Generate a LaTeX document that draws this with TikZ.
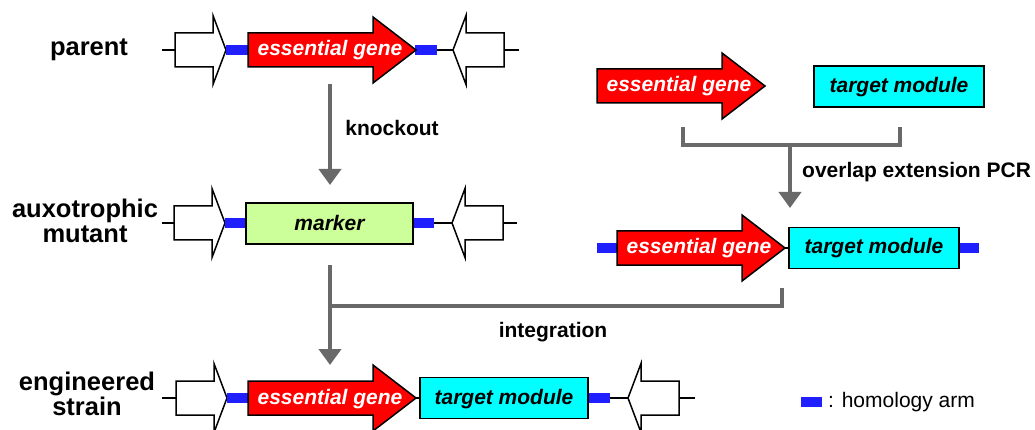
\documentclass[tikz,border=0pt]{standalone}
\usepackage{fontspec}
\setmainfont{Liberation Sans}
\usetikzlibrary{arrows.meta}
\definecolor{genered}{HTML}{FF0000}
\definecolor{modcyan}{HTML}{00FFFF}
\definecolor{markgreen}{HTML}{CCFF99}
\definecolor{armblue}{HTML}{1F1FFF}
\definecolor{flowgray}{HTML}{696969}
\tikzset{
  backbone/.style={line width=2.6pt,black},
  shapeline/.style={draw=black,line width=1.5pt,line join=miter},
  flankbox/.style={shapeline,fill=white},
  genebox/.style={shapeline,fill=genered},
  modbox/.style={shapeline,fill=modcyan},
  markbox/.style={shapeline,fill=markgreen},
  arm/.style={fill=armblue},
  flow/.style={draw=flowgray,line width=4pt,line join=miter},
  flowarrow/.style={flow,-{Triangle[width=22pt,length=16pt]}},
  genetext/.style={font=\fontsize{21}{24}\selectfont\bfseries\itshape,text=white,anchor=base,inner sep=0pt},
  modtext/.style={font=\fontsize{21}{24}\selectfont\bfseries\itshape,text=black,anchor=base,inner sep=0pt},
  rowlabel/.style={font=\fontsize{25.5}{25}\selectfont\bfseries,align=center,anchor=base,inner sep=0pt},
  steptext/.style={font=\fontsize{21}{24}\selectfont\bfseries,anchor=base,inner sep=0pt},
  legendtext/.style={font=\fontsize{21}{24}\selectfont,anchor=base west,inner sep=0pt},
  flankfwd/.pic={\draw[flankbox] (0,-17) -- (38,-17) -- (38,-34.5) -- (51,0) -- (38,34.5) -- (38,17) -- (0,17) -- cycle;},
  flankrev/.pic={\draw[flankbox] (0,0) -- (13,-34.5) -- (13,-17) -- (51,-17) -- (51,17) -- (13,17) -- (13,34.5) -- cycle;},
  genearrow/.pic={\draw[genebox] (0,-17) -- (125,-17) -- (125,-33) -- (168,0) -- (125,33) -- (125,17) -- (0,17) -- cycle;
    \node[genetext] (-t) at (82,6) {essential gene};},
}
\begin{document}
\begin{tikzpicture}[x=1pt,y=-1pt]
\useasboundingbox (0,0) rectangle (1035,430);

% ---------- parent row ----------
\node[rowlabel] (lparent) at (89,56) {parent};
\draw[backbone] (162,50) -- (519,50);
\pic at (175,50) {flankfwd};
\pic at (453,50) {flankrev};
\fill[arm] (226,45) rectangle (248,55);
\fill[arm] (415,45) rectangle (437,55);
\pic (pg) at (248,50) {genearrow};

% ---------- auxotrophic row ----------
\node[rowlabel] (laux) at (85,243) {auxotrophic\\mutant};
\draw[backbone] (162,223) -- (517,223);
\pic at (174,223) {flankfwd};
\pic at (452,223) {flankrev};
\fill[arm] (225,218) rectangle (247,228);
\fill[arm] (412,218) rectangle (434,228);
\draw[markbox] (246,203) rectangle (413,244);
\node[modtext] (mk) at (329.5,231) {marker};

% ---------- engineered row ----------
\node[rowlabel] (leng) at (87,415) {engineered\\strain};
\draw[backbone] (162,398) -- (695,398);
\pic at (176,398) {flankfwd};
\pic at (628,398) {flankrev};
\fill[arm] (227,393) rectangle (249,403);
\fill[arm] (587,393) rectangle (610,403);
\pic (eg) at (248,398) {genearrow};
\draw[modbox] (420,377.5) rectangle (588,418.5);
\node[modtext] (etm) at (504,404) {target module};

% ---------- right side: parts ----------
\pic (sg) at (597,86) {genearrow};
\draw[modbox] (814,66) rectangle (984,107);
\node[modtext] (stm) at (899,92.5) {target module};

% ---------- right side: fused product ----------
\draw[backbone] (780,248) -- (792,248);
\fill[arm] (597,243) rectangle (618,253);
\fill[arm] (958,243) rectangle (979,253);
\pic (cg) at (617,248) {genearrow};
\draw[modbox] (789,227.5) rectangle (959,268.5);
\node[modtext] (ctm) at (874,254) {target module};

% ---------- flow arrows ----------
\coordinate (ko1) at (330,84);
\coordinate (ko2) at (330,185);
\draw[flowarrow] (ko1) -- (ko2);
\node[steptext] (tko) at (392,136) {knockout};

\coordinate (brL) at (683,127);
\coordinate (brR) at (900,127);
\coordinate (brM) at (790,145);
\coordinate (brT) at (790,208);
\draw[flow] (brL) -- (683,145) -- (900,145) -- (brR);
\draw[flowarrow] (brM) -- (brT);
\node[steptext,anchor=base west] (tov) at (802,178) {overlap extension PCR};

\coordinate (in1) at (330,265);
\coordinate (in2) at (330,365);
\coordinate (inR) at (782,288);
\draw[flowarrow] (in1) -- (in2);
\draw[flow] (inR) -- (782,306) -- (330,306);
\node[steptext] (tin) at (553,337) {integration};

% ---------- legend ----------
\fill[arm] (801,397) rectangle (822,407);
\node[legendtext] (leg) at (828,407) {: homology arm};
\end{tikzpicture}
\end{document}
